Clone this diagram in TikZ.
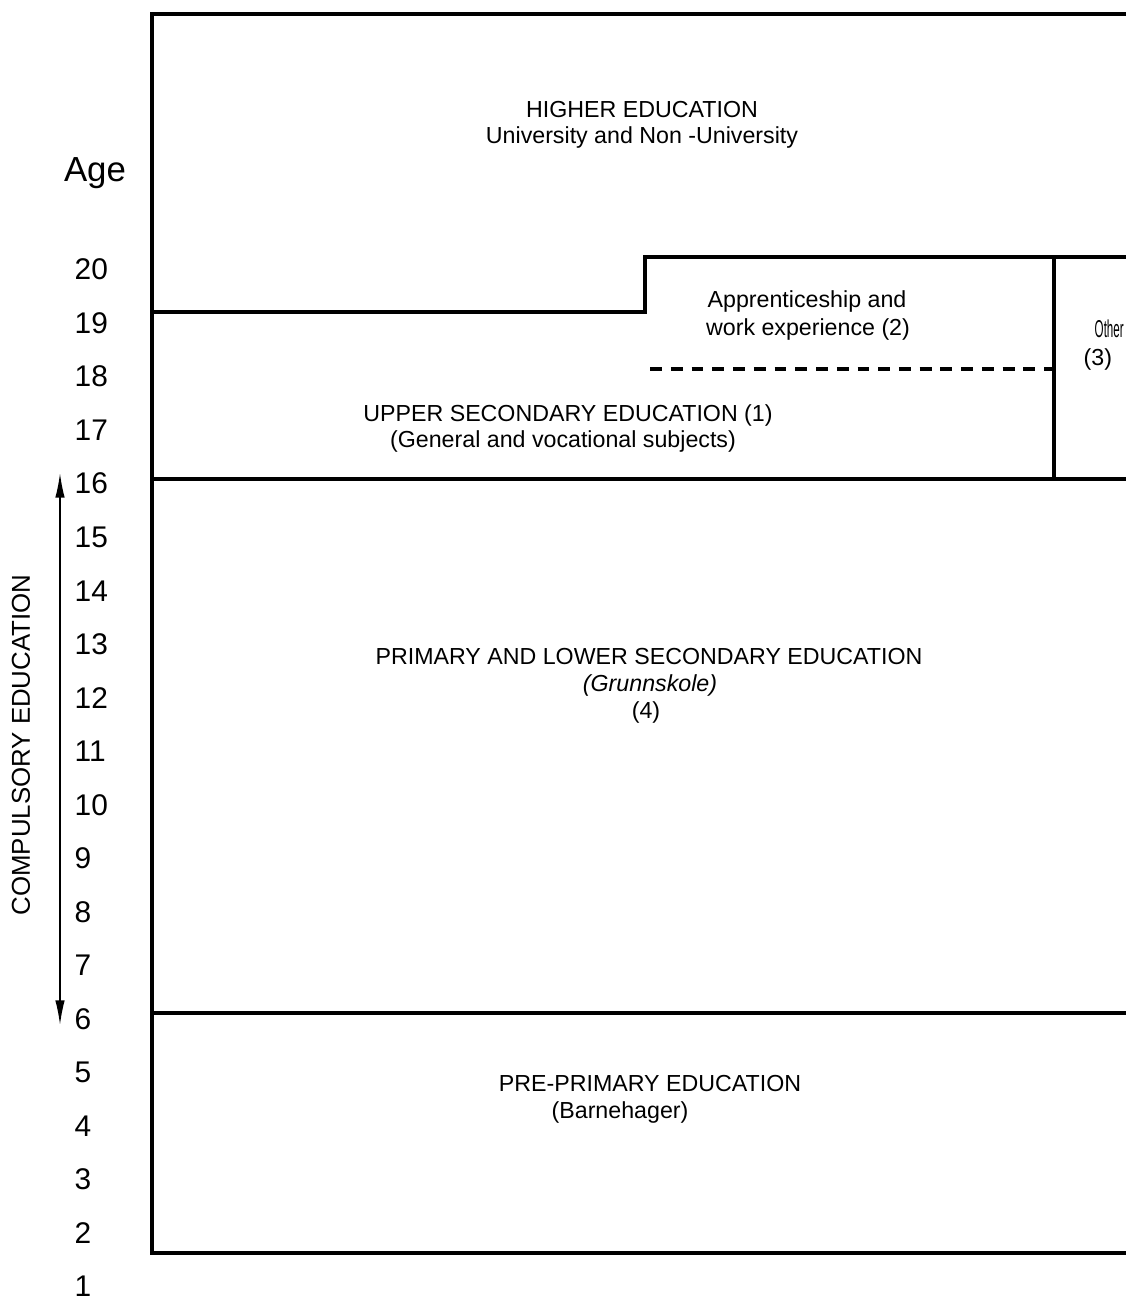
\documentclass[tikz,border=0pt]{standalone}
\usepackage{fontspec}
\setmainfont{Liberation Sans}
\usepackage{tikz}
\usetikzlibrary{arrows.meta,calc}
\tikzset{frame/.style={black, line width=0.95pt},
         lbl/.style={inner sep=0pt, anchor=base, font=\fontsize{6.6}{7.9}\selectfont},
         agenum/.style={inner sep=0pt, anchor=base west, font=\fontsize{8.5}{10}\selectfont}}

\begin{document}
\begin{tikzpicture}[x=0.01cm, y=-0.01cm]
    \useasboundingbox (0,0) rectangle (1126,1298);

    \def\xl{152};
    \def\xr{1126};
    \def\xs{645};
    \def\xo{1054};

    % frame
    \draw[frame] (\xr,14) -- (\xl,14) -- (\xl,1253) -- (\xr,1253);
    \draw[frame] (\xl,312) -- (\xs,312) -- (\xs,257) -- (\xr,257);
    \draw[frame] (\xo,257) -- (\xo,479);
    \draw[frame] (\xl,479) -- (\xr,479);
    \draw[frame] (\xl,1013) -- (\xr,1013);
    \draw[frame, dash pattern=on 3.4pt off 2.5pt] (650,369) -- (\xo,369);

    % labels
    \node[lbl] (higher) at (642,118) {HIGHER EDUCATION};
    \node[lbl] (univ) at (642,144) {University and Non -University};
    \node[lbl] (appr) at (807,308) {Apprenticeship and};
    \node[lbl] (work) at (808,336) {work experience (2)};
    \node[lbl, anchor=base west] (other) at (1094,338) {\scalebox{0.5}[1.05]{Other}};
    \node[lbl, anchor=base west] (three) at (1083,366) {(3)};
    \node[lbl] (upper) at (568,422) {UPPER SECONDARY EDUCATION (1)};
    \node[lbl] (general) at (563,448) {(General and vocational subjects)};
    \node[lbl] (primary) at (649,664) {PRIMARY AND LOWER SECONDARY EDUCATION};
    \node[lbl] (grunn) at (650,691) {\itshape (Grunnskole)};
    \node[lbl] (four) at (646,718) {(4)};
    \node[lbl] (pre) at (650,1091) {PRE-PRIMARY EDUCATION};
    \node[lbl] (barne) at (620,1118) {(Barnehager)};

    % ages
    \node[inner sep=0pt, anchor=base, font=\fontsize{9.9}{12}\selectfont] (age) at (95,182) {Age};
    \node[agenum] (a20) at (74,280) {20};
    \node[agenum] (a19) at (74,333.5) {19};
    \node[agenum] (a18) at (74,387) {18};
    \node[agenum] (a17) at (74,440.5) {17};
    \node[agenum] (a16) at (74,494) {16};
    \node[agenum] (a15) at (74,547.5) {15};
    \node[agenum] (a14) at (74,601) {14};
    \node[agenum] (a13) at (74,654.5) {13};
    \node[agenum] (a12) at (74,708) {12};
    \node[agenum] (a11) at (74,761.5) {11};
    \node[agenum] (a10) at (74,815) {10};
    \node[agenum] (a9) at (74,868.5) {9};
    \node[agenum] (a8) at (74,922) {8};
    \node[agenum] (a7) at (74,975.5) {7};
    \node[agenum] (a6) at (74,1029) {6};
    \node[agenum] (a5) at (74,1082.5) {5};
    \node[agenum] (a4) at (74,1136) {4};
    \node[agenum] (a3) at (74,1189.5) {3};
    \node[agenum] (a2) at (74,1243) {2};
    \node[agenum] (a1) at (74,1296.5) {1};

    % compulsory
    \coordinate (ctop) at (60,473);
    \coordinate (cbot) at (60,1025);
    \draw[black, line width=0.45pt, {Latex[length=7pt,width=2.7pt]}-{Latex[length=7pt,width=2.7pt]}] (ctop) -- (cbot);
    \node[rotate=90, inner sep=0pt, font=\fontsize{7.35}{8.5}\selectfont] (comp) at (21,745) {COMPULSORY EDUCATION};
\end{tikzpicture}
\end{document}
